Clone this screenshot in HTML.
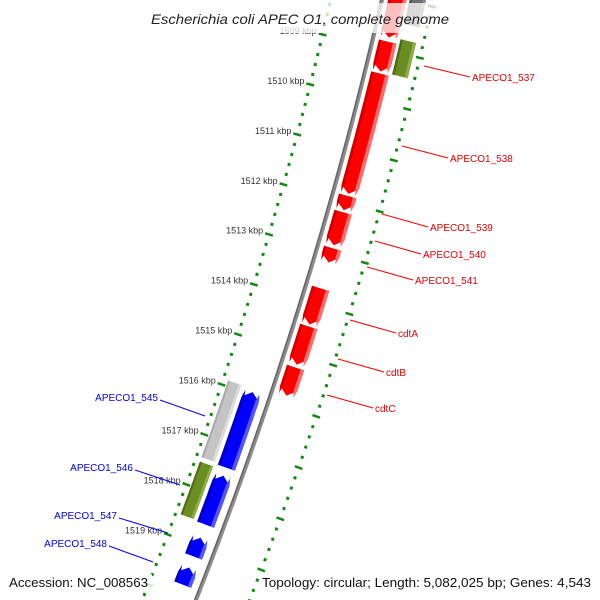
<!DOCTYPE html>
<html><head><meta charset="utf-8"><style>
html,body{margin:0;padding:0;background:#fff;overflow:hidden;width:600px;height:600px;}
svg{display:block;font-family:"Liberation Sans","DejaVu Sans",sans-serif;overflow:hidden;}
</style></head><body>
<svg id="map" width="600" height="600" viewBox="0 0 600 600" xmlns="http://www.w3.org/2000/svg">
<rect width="600" height="600" fill="#fff"/>
<g id="ticks"></g>
<g id="feats"></g>
<g id="bb"></g>
<g id="tlabels"></g>
<g id="flabels"></g>
<rect x="145" y="3" width="312" height="30" fill="#fff" opacity="0.75"/>
<text x="300" y="24" text-anchor="middle" font-size="14" font-style="italic" fill="#222" textLength="298" lengthAdjust="spacingAndGlyphs">Escherichia coli APEC O1, complete genome</text>
<rect x="6" y="574" width="146" height="18" fill="#fff" opacity="0.8"/>
<text x="9" y="587" font-size="12.5" fill="#111" textLength="139" lengthAdjust="spacingAndGlyphs">Accession: NC_008563</text>
<rect x="259" y="574" width="336" height="18" fill="#fff" opacity="0.8"/>
<text x="262" y="587" font-size="12.5" fill="#111" textLength="329" lengthAdjust="spacingAndGlyphs">Topology: circular; Length: 5,082,025 bp; Genes: 4,543</text>
</svg>
<script>
// data (kbp)
const fwdStarts=[1507.81,1508.84,1509.47,1511.88,1512.20,1512.91,1513.70,1514.45,1515.26];
const fwdEnds  =[1508.76,1509.43,1511.84,1512.16,1512.85,1513.19,1514.41,1515.20,1515.81];
const revStarts=[1515.95,1517.61,1518.84,1519.43];
const revEnds  =[1517.45,1518.58,1519.21,1519.77];
const outerRStarts=[1507.81,1508.74];
const outerREnds  =[1508.44,1509.43];
const outerRKinds =['gray','green'];
const outerLStarts=[1515.89,1517.51];
const outerLEnds  =[1517.42,1518.56];
const outerLKinds =['lightgray','green'];
const tickKbp=[1509,1510,1511,1512,1513,1514,1515,1516,1517,1518,1519];
const fwdNames=['APECO1_537','APECO1_538','APECO1_539','APECO1_540','APECO1_541','cdtA','cdtB','cdtC'];
const revNames=['APECO1_545','APECO1_546','APECO1_547','APECO1_548'];

const NS='http://www.w3.org/2000/svg';
function mk(t,a,p){const e=document.createElementNS(NS,t);for(const k in a)e.setAttribute(k,a[k]);p.appendChild(e);return e;}
function sOf(k){return 198+(k-1512)*50.6;}
function bx(s){return 382-0.2275*s-0.0001375*s*s;}
function pt(s,d){const dx=-0.2275-0.000275*s;const n=Math.hypot(1,dx);return [bx(s)+d/n, s-dx*d/n];}
function poly(pts){return pts.map(p=>p[0].toFixed(1)+','+p[1].toFixed(1)).join(' ');}
function band(s1,s2,d1,d2,dir,head){
 const L=[],R=[];const N=12;const dm=(d1+d2)/2;
 let a=s1,b=s2;
 if(dir===1)b=Math.max(s1,s2-head); if(dir===-1)a=Math.min(s2,s1+head);
 for(let i=0;i<=N;i++){const s=a+(b-a)*i/N;L.push(pt(s,d1));R.push(pt(s,d2));}
 let out=[];
 if(dir===-1)out.push(pt(s1,dm));
 out=out.concat(L);
 if(dir===1)out.push(pt(s2,dm));
 out=out.concat(R.reverse());
 return poly(out);
}
const feats=document.getElementById('feats');
const colors={red:['#ff0000','#d00000','#ff6a6a'],blue:['#0000ff','#0000c0','#5555ff'],green:['#6b8e23','#4f6a18','#8fae48'],gray:['#6e6e6e','#555','#8a8a8a'],lightgray:['#c4c4c4','#aaaaaa','#dcdcdc']};
function drawFeat(s1,s2,d1,d2,dir,kind,name){
 const c=colors[kind];const w=d2-d1;
 const g=mk('g',{},feats);
 
 
 const p1=mk('polygon',{points:band(s1,s2,d1,d2,dir,7),fill:c[0]},g);
 
 
 const p2=mk('polygon',{points:band(s1,s2,d2-w*0.2,d2,dir,7),fill:c[2]},g);
 
 
 const p3=mk('polygon',{points:band(s1,s2,d1,d1+w*0.15,dir,7),fill:c[1]},g);
 
 
}
fwdStarts.forEach((k,i)=>drawFeat(sOf(k),sOf(fwdEnds[i]),6,24,1,'red','forward-cds-'+i));
revStarts.forEach((k,i)=>drawFeat(sOf(k),sOf(revEnds[i]),-27,-9,-1,'blue','reverse-cds-'+i));
outerRStarts.forEach((k,i)=>drawFeat(sOf(k),sOf(outerREnds[i]),27,43,0,outerRKinds[i],'outer-right-feature-'+i));
outerLStarts.forEach((k,i)=>drawFeat(sOf(k),sOf(outerLEnds[i]),-45,-31,0,outerLKinds[i],'outer-left-feature-'+i));

const bb=document.getElementById('bb');
function line(d,s1,s2){const a=[];for(let s=s1;s<=s2;s+=10)a.push(pt(s,d));return poly(a);}
let e=mk('polyline',{points:line(0,-30,640),fill:'none',stroke:'#8c8c8c','stroke-width':4},bb);


e=mk('polyline',{points:line(-1.3,-30,640),fill:'none',stroke:'#666','stroke-width':1.5},bb);



const tk=document.getElementById('ticks');
[-50,50].forEach((d,ri)=>{
 for(let m=7535;m<=7605;m++){
  const k=m/5;const s=sOf(k);const major=(m%5===0);
  const len=major?8:3;
  const a=pt(s,d-len/2),b=pt(s,d+len/2);
  const t=mk('line',{x1:a[0],y1:a[1],x2:b[0],y2:b[1],stroke:'#118811','stroke-width':major?2.5:3},tk);
  
  
 }
});
const tl=document.getElementById('tlabels');
tickKbp.forEach(k=>{const p=pt(sOf(k),-56);
 const t=mk('text',{x:p[0].toFixed(1),y:(p[1]+1).toFixed(1),'text-anchor':'end','font-size':9,fill:'#333'},tl);
 t.textContent=k+' kbp';
 
 
});

const fl=document.getElementById('flabels');
const fwdLab=[[424,66,470,77],[402,146,448,158],[382,214,428,227],[375,241,421,254],[367,267,413,280],[350,320,396,333],[338,359,384,372],[327,395,373,408]];
fwdNames.forEach((n,i)=>{const q=fwdLab[i];
 let l=mk('line',{x1:q[0],y1:q[1],x2:q[2],y2:q[3],stroke:'#ff0000','stroke-width':1},fl);
 
 let t=mk('text',{x:q[2]+2,y:q[3]+4,'font-size':10,fill:'#e00000'},fl);t.textContent=n;
 
});
const revLab=[[205,416,160,400],[180,485,135,470],[168,533,119,518],[153,562,109,546]];
revNames.forEach((n,i)=>{const q=revLab[i];
 let l=mk('line',{x1:q[0],y1:q[1],x2:q[2],y2:q[3],stroke:'#0000ff','stroke-width':1},fl);
 
 let t=mk('text',{x:q[2]-2,y:q[3]+1,'font-size':10,fill:'#0000ee','text-anchor':'end'},fl);t.textContent=n;
 
});
</script>
</body></html>
